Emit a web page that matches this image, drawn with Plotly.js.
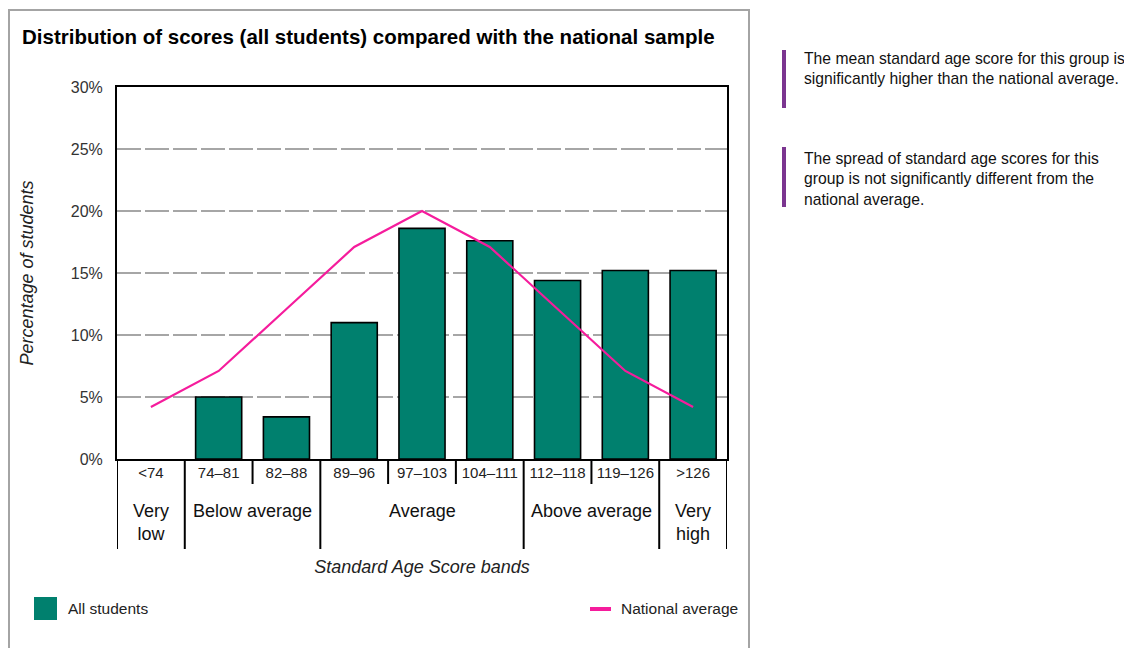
<!DOCTYPE html>
<html>
<head>
<meta charset="utf-8">
<script src="https://cdn.plot.ly/plotly-3.0.1.min.js"></script>
<style>
  html, body { margin: 0; padding: 0; background: #ffffff; }
  #chart { width: 1124px; height: 648px; }
</style>
</head>
<body>
<div id="chart"></div>
<script>
// ---- data ----
const categories = ['<74', '74–81', '82–88', '89–96', '97–103', '104–111', '112–118', '119–126', '>126'];
const allStudents = [0, 5.0, 3.4, 11.0, 18.6, 17.6, 14.4, 15.2, 15.2];
const nationalAverage = [4.2, 7.1, 12.1, 17.1, 20.0, 17.1, 12.1, 7.1, 4.2];
const yTickValues = [0, 5, 10, 15, 20, 25, 30];
const yTickLabels = ['0%', '5%', '10%', '15%', '20%', '25%', '30%'];
const groupLabels = ['Very<br>low', 'Below average', 'Average', 'Above average', 'Very<br>high'];
const groupFirst = [0, 1, 3, 6, 8];
const groupLast = [0, 2, 5, 7, 8];
const seriesNames = ['All students', 'National average'];
const chartTitle = 'Distribution of scores (all students) compared with the national sample';
const xTitle = 'Standard Age Score bands';
const yTitle = 'Percentage of students';
const notes = [
  'The mean standard age score for this group is<br>significantly higher than the national average.',
  'The spread of standard age scores for this<br>group is not significantly different from the<br>national average.'
];

// ---- styling ----
const FONT = 'Liberation Sans, Arial, Helvetica, sans-serif';
const TEAL = '#00806e';
const PINK = '#f51c9c';
const PURPLE = '#7b3590';
const W = 1124, H = 648;
const L = 117, R = 727, T = 87, B = 459;
// pixel -> paper helpers (layout positioning only)
const px = v => (v - L) / (R - L);
const py = v => (B - v) / (B - T);

const barTrace = {
  type: 'bar',
  name: seriesNames[0],
  x: categories,
  y: allStudents,
  marker: {
    color: TEAL,
    line: { color: '#000000', width: allStudents.map(v => (v > 0 ? 1.6 : 0)) }
  },
  showlegend: false
};
const lineTrace = {
  type: 'scatter',
  mode: 'lines',
  name: seriesNames[1],
  x: categories,
  y: nationalAverage,
  line: { color: PINK, width: 2.2 },
  showlegend: false
};

const shapes = [];
// cell dividers under the axis
for (let b = 0; b <= categories.length; b++) {
  const isLong = (b === 0 || b === categories.length || groupFirst.indexOf(b) >= 0);
  shapes.push({
    type: 'line', xref: 'x', yref: 'paper',
    x0: b - 0.5, x1: b - 0.5, y0: 0, y1: isLong ? py(549) : py(484),
    line: { color: '#000000', width: 2 }
  });
}
// outer grey frame
shapes.push({
  type: 'rect', xref: 'paper', yref: 'paper',
  x0: px(9), x1: px(749), y0: py(700), y1: py(10),
  line: { color: '#a4a4a4', width: 2 }, fillcolor: 'rgba(0,0,0,0)', layer: 'below'
});
// legend symbols
shapes.push({
  type: 'rect', xref: 'paper', yref: 'paper',
  x0: px(34), x1: px(57), y0: py(620), y1: py(597),
  line: { width: 0 }, fillcolor: TEAL
});
shapes.push({
  type: 'line', xref: 'paper', yref: 'paper',
  x0: px(590), x1: px(611), y0: py(609), y1: py(609),
  line: { color: PINK, width: 4 }
});
// note bars
shapes.push({
  type: 'rect', xref: 'paper', yref: 'paper',
  x0: px(782), x1: px(786), y0: py(108), y1: py(50),
  line: { width: 0 }, fillcolor: PURPLE
});
shapes.push({
  type: 'rect', xref: 'paper', yref: 'paper',
  x0: px(782), x1: px(786), y0: py(207), y1: py(147),
  line: { width: 0 }, fillcolor: PURPLE
});

const annotations = [];
for (let g = 0; g < groupLabels.length; g++) {
  annotations.push({
    xref: 'x', yref: 'paper',
    x: (groupFirst[g] + groupLast[g]) / 2, y: py(499),
    xanchor: 'center', yanchor: 'top',
    text: groupLabels[g], showarrow: false, align: 'center',
    font: { family: FONT, size: 18, color: '#111111' }
  });
}
annotations.push({
  xref: 'paper', yref: 'paper', x: px(66), y: py(608),
  xanchor: 'left', yanchor: 'middle', text: seriesNames[0], showarrow: false,
  font: { family: FONT, size: 15.5, color: '#222222' }
});
annotations.push({
  xref: 'paper', yref: 'paper', x: px(619), y: py(608),
  xanchor: 'left', yanchor: 'middle', text: seriesNames[1], showarrow: false,
  font: { family: FONT, size: 15.5, color: '#222222' }
});
annotations.push({
  xref: 'paper', yref: 'paper', x: px(802), y: py(48),
  xanchor: 'left', yanchor: 'top', align: 'left', text: notes[0], showarrow: false,
  font: { family: FONT, size: 15.7, color: '#111111' }
});
annotations.push({
  xref: 'paper', yref: 'paper', x: px(802), y: py(148),
  xanchor: 'left', yanchor: 'top', align: 'left', text: notes[1], showarrow: false,
  font: { family: FONT, size: 15.7, color: '#111111' }
});

const layout = {
  width: W, height: H,
  margin: { l: L, r: W - R, t: T, b: H - B, pad: 0 },
  paper_bgcolor: '#ffffff', plot_bgcolor: '#ffffff',
  showlegend: false,
  bargap: 0.32,
  title: {
    text: chartTitle,
    xref: 'container', yref: 'container',
    x: 22 / W, xanchor: 'left', y: 1 - 37 / H, yanchor: 'middle',
    font: { family: FONT, size: 20.5, color: '#000000', weight: 'bold' }
  },
  xaxis: {
    type: 'category',
    range: [-0.5, categories.length - 0.5],
    showgrid: false, zeroline: false,
    showline: true, linecolor: '#000000', linewidth: 2, mirror: true,
    ticks: '', ticklabelstandoff: -1,
    tickfont: { family: FONT, size: 15, color: '#222222' },
    title: { text: xTitle, standoff: 80, font: { family: FONT, size: 18, color: '#222222', style: 'italic' } },
    fixedrange: true
  },
  yaxis: {
    range: [0, 30],
    tickvals: yTickValues, ticktext: yTickLabels,
    showgrid: true, gridcolor: '#a6a6a6', gridwidth: 1.5, griddash: '24px,4px',
    zeroline: false,
    showline: true, linecolor: '#000000', linewidth: 2, mirror: true,
    ticks: '', ticklabelstandoff: 9,
    tickfont: { family: FONT, size: 16, color: '#333333' },
    title: { text: yTitle, standoff: 32, font: { family: FONT, size: 18, color: '#222222', style: 'italic' } },
    fixedrange: true
  },
  shapes: shapes,
  annotations: annotations
};

Plotly.newPlot('chart', [barTrace, lineTrace], layout, { staticPlot: true, displayModeBar: false });
</script>
</body>
</html>
